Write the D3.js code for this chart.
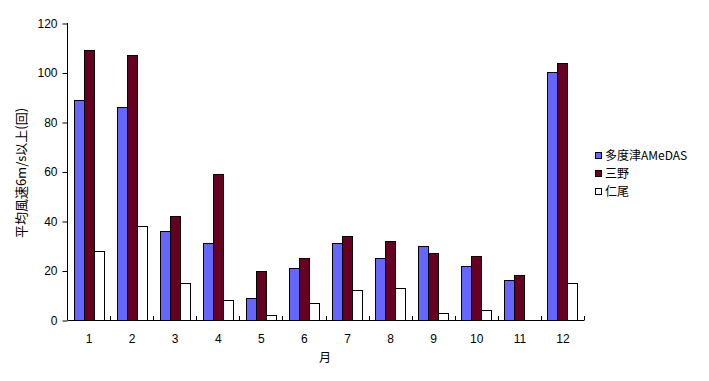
<!DOCTYPE html>
<html><head><meta charset="utf-8">
<script src="https://cdn.jsdelivr.net/npm/d3@7"></script>
<style>body{margin:0;background:#fff;}svg{display:block;font-family:Arial,"Liberation Sans","Noto Sans CJK JP",sans-serif;}</style>
</head><body><svg id="c" width="709" height="381"></svg>
<script>
const months = ["1","2","3","4","5","6","7","8","9","10","11","12"];
const seriesNames = ["多度津AMeDAS","三野","仁尾"];
const tadotsu = [89,86,36,31,9,21,31,25,30,22,16,100];
const mino = [109,107,42,59,20,25,34,32,27,26,18,104];
const nio = [28,38,15,8,2,7,12,13,3,4,0,15];
const yTicks = [0,20,40,60,80,100,120];
const colors = ["#6666ff","#660022","#ffffff"];
const allSeries = [tadotsu, mino, nio];

(function(){
const svg = d3.select("#c");
const pL = 67, pR = 584, pT = 23, pB = 320;
const x = d3.scaleBand().domain(months).range([pL, pR]).paddingInner(0).paddingOuter(0);
const y = d3.scaleLinear().domain([0,120]).range([pB, pT]);
const xs = d3.scaleBand().domain([0,1,2]).range([0, x.bandwidth()]).paddingInner(0).paddingOuter(0.654);

// bars
allSeries.forEach((vals, si) => {
  svg.append("g").selectAll("rect").data(vals.map((v,i)=>({m:months[i], v})).filter(d=>d.v>0))
    .join("rect")
    .attr("x", d => Math.round(x(d.m) + xs(si)) + 0.5)
    .attr("y", d => Math.round(y(d.v)) + 0.5)
    .attr("width", Math.round(xs.bandwidth()))
    .attr("height", d => Math.round(y(0)) - Math.round(y(d.v)))
    .attr("fill", colors[si]).attr("stroke", "#000").attr("stroke-width", 1);
});

// y axis
const ya = svg.append("g").attr("transform", `translate(${pL+0.5},0.5)`)
  .call(d3.axisLeft(y).tickValues(yTicks).tickSize(5).tickPadding(5));
ya.selectAll("text").attr("font-size", 12).attr("fill", "#000").attr("font-family", "Arial,Liberation Sans,sans-serif");
ya.selectAll("line,path").attr("stroke", "#000");
ya.select("path").attr("d", `M0,${pT-0.5}V${pB-0.5}`);

// x axis
const xa = svg.append("g").attr("transform", `translate(0.5,${pB+0.5})`)
  .call(d3.axisBottom(x).tickSize(0).tickPadding(14));
xa.select("path").attr("stroke","#000").attr("d", `M${pL},0H${pR}`);
xa.selectAll("text").attr("font-size", 12).attr("fill", "#000").attr("font-family", "Arial,Liberation Sans,sans-serif");
svg.append("g").selectAll("line").data(months).join("line")
  .attr("x1", d => Math.round(x(d) + x.bandwidth()) + 0.5)
  .attr("x2", d => Math.round(x(d) + x.bandwidth()) + 0.5)
  .attr("y1", pB).attr("y2", pB - 4).attr("stroke", "#000");

// axis titles
svg.append("text").attr("x", 325).attr("y", 362).attr("text-anchor","middle")
  .attr("font-size", 12).attr("font-family","Noto Sans CJK JP,sans-serif").text("月");
svg.append("text").attr("transform", "translate(26,173) rotate(-90)").attr("text-anchor","middle")
  .attr("font-size", 13).attr("font-family","Noto Sans CJK JP,sans-serif").text("平均風速6m/s以上(回)");

// legend
const lg = svg.append("g").attr("transform","translate(595,152)");
seriesNames.forEach((n,i) => {
  lg.append("rect").attr("x",0.5).attr("y", i*18 + 0.5).attr("width",6).attr("height",6)
    .attr("fill", colors[i]).attr("stroke","#000");
  lg.append("text").attr("x", 10).attr("y", i*18 + 8).attr("font-size", 12)
    .attr("font-family","Noto Sans CJK JP,sans-serif").text(n);
});
})();
</script></body></html>
